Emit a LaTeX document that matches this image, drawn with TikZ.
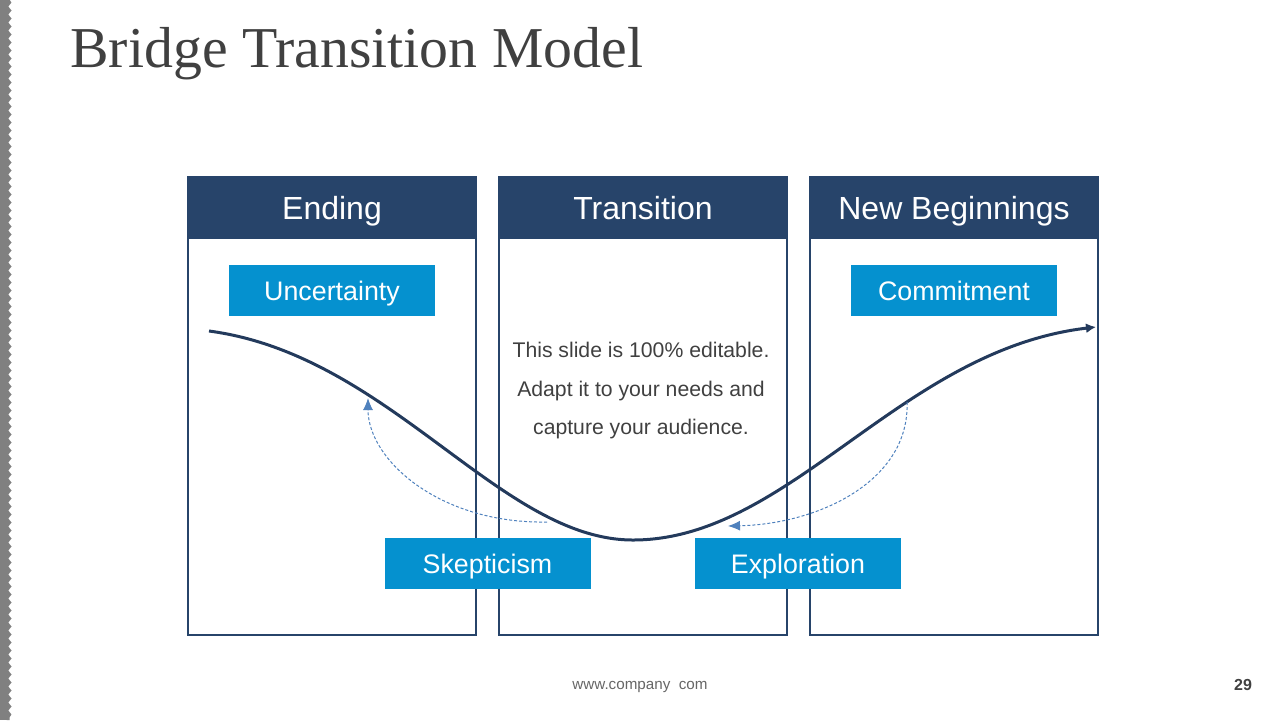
\documentclass[tikz,border=0pt]{standalone}
\usepackage{fontspec}
\setmainfont{Liberation Serif}
\setsansfont{Liberation Sans}
\usetikzlibrary{arrows.meta,positioning,calc,decorations.pathmorphing}
\definecolor{navy}{HTML}{27446A}
\definecolor{curvenavy}{HTML}{233A5C}
\definecolor{boxblue}{HTML}{0591CF}
\definecolor{dashblue}{HTML}{4F81BD}
\definecolor{txtgray}{HTML}{404040}
\definecolor{stripgray}{HTML}{808080}

\begin{document}
\begin{tikzpicture}[x=0.5pt,y=-0.5pt,>=Latex,
panel/.style={rectangle,draw=navy,line width=0.6pt,minimum width=144pt,minimum height=229pt,inner sep=0pt},
head/.style={rectangle,fill=navy,draw=navy,line width=0.6pt,minimum width=144pt,minimum height=30.5pt,inner sep=0pt,text height=12pt,text depth=0pt,text=white,font=\sffamily\fontsize{16}{19}\selectfont},
tag/.style={rectangle,fill=boxblue,minimum width=103pt,minimum height=25.5pt,inner sep=0pt,text height=9.6pt,text depth=0pt,text=white,font=\sffamily\fontsize{13.4}{16}\selectfont},
flow/.style={curvenavy,line width=1.5pt,-{Latex[length=5pt,width=5pt]}},
back/.style={dashblue,line width=0.5pt,dash pattern=on 1.5pt off 1pt,-{Latex[length=6pt,width=5pt]}}]
\useasboundingbox (0,0) rectangle (1280,720);
% left edge strip
\fill[stripgray] (0,0) rectangle (8,720);
\draw[stripgray,line width=1.5pt,decorate,decoration={snake,amplitude=0.8pt,segment length=4pt}] (8,0) -- (8,720);
\node[anchor=base west,inner sep=0pt,text=txtgray,font=\fontsize{28.9}{34}\selectfont] (title) at (70,67) {Bridge Transition Model};
% columns
\foreach \x/\nm/\txt in {332/end/Ending,643/trans/Transition,954/new/New Beginnings}
  {\node[panel] (p\nm) at (\x,406) {};
   \node[head] (h\nm) at (\x,207.5) {\txt};}
\node[align=center,text=txtgray,font=\sffamily\fontsize{10.6}{19.25}\selectfont] (note) at (641,391) {This slide is 100\% editable.\\Adapt it to your needs and\\capture your audience.};
% the bridge curve
\coordinate (start) at (209,331);
\coordinate (low) at (633,540);
\coordinate (stop) at (1096,327);
\draw[flow] (start) .. controls (390,355) and (500,540) .. (low) .. controls (790,540) and (900,350) .. (stop);
\coordinate (sk) at (547,522);
\coordinate (skTip) at (368,398);
\coordinate (ex) at (907,402);
\coordinate (exTip) at (728,526);
\draw[back] (sk) .. controls (440,524) and (368,460) .. (skTip);
\draw[back] (ex) .. controls (910,480) and (820,524) .. (exTip);
\node[tag] (uncert) at (332,290.5) {Uncertainty};
\node[tag] (commit) at (954,290.5) {Commitment};
\node[tag] (skept) at (487.5,563.5) {Skepticism};
\node[tag] (explor) at (798,563.5) {Exploration};
% footer
\node[text=txtgray!80,font=\sffamily\fontsize{7.6}{9}\selectfont] (web) at (640,687) {www.company\ \ com};
\node[text=txtgray,font=\sffamily\bfseries\fontsize{8}{10}\selectfont] (page) at (1243,685) {29};
\end{tikzpicture}
\end{document}
